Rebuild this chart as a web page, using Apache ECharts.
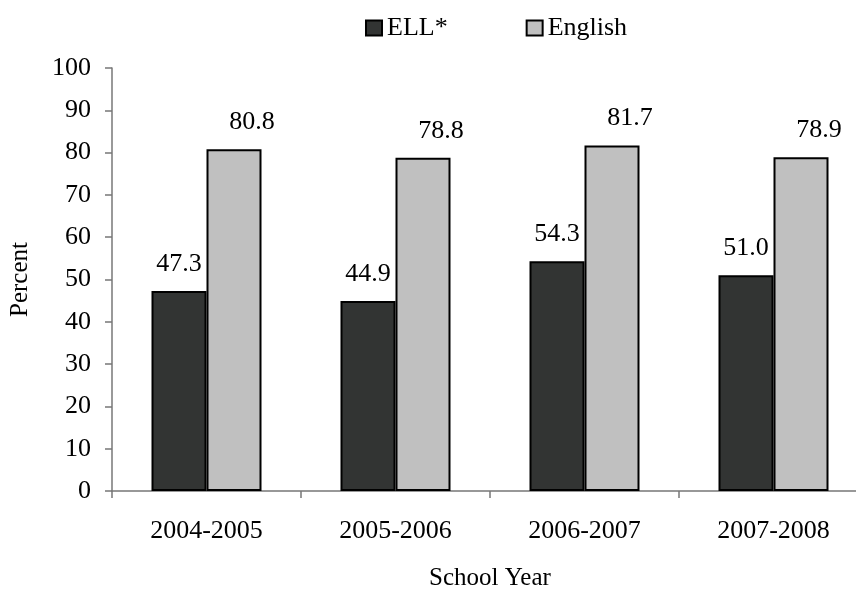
<!DOCTYPE html>
<html>
<head>
<meta charset="utf-8">
<script src="https://cdn.jsdelivr.net/npm/echarts@6/dist/echarts.min.js"></script>
<style>html,body{margin:0;padding:0;background:#fff}#c{width:856px;height:589px}</style>
</head>
<body>
<div id="c"></div>
<script>
const categories = ['2004-2005', '2005-2006', '2006-2007', '2007-2008'];
const ellValues = [47.3, 44.9, 54.3, 51.0];
const englishValues = [80.8, 78.8, 81.7, 78.9];
const seriesNames = ['ELL*', 'English'];

const FONT = 'Liberation Serif';
const chart = echarts.init(document.getElementById('c'));
function labelStyle(dx) {
  return {
    show: true, position: 'top', distance: 14, offset: [dx, 0],
    fontFamily: FONT, fontSize: 26, color: '#000',
    formatter: p => p.value.toFixed(1)
  };
}
chart.setOption({
  animation: false,
  backgroundColor: '#fff',
  textStyle: { fontFamily: FONT },
  legend: {
    data: seriesNames,
    top: 10, left: 360,
    itemWidth: 16, itemHeight: 15, itemGap: 78,
    textStyle: { fontFamily: FONT, fontSize: 26, color: '#000' },
    icon: 'rect'
  },
  grid: { left: 112, top: 68, width: 756, height: 423, outerBoundsMode: 'none', containLabel: false },
  xAxis: {
    type: 'category', data: categories,
    name: 'School Year', nameLocation: 'middle', nameGap: 75,
    nameTextStyle: { fontFamily: FONT, fontSize: 25, color: '#000' },
    axisLine: { lineStyle: { color: '#777', width: 1.5 } },
    axisTick: { show: true, length: 7, lineStyle: { color: '#777', width: 1.5 } },
    axisLabel: { fontFamily: FONT, fontSize: 26, color: '#000', margin: 27 }
  },
  yAxis: {
    type: 'value', min: 0, max: 100, interval: 10,
    name: 'Percent', nameLocation: 'middle', nameGap: 79,
    nameTextStyle: { fontFamily: FONT, fontSize: 25, color: '#000' },
    axisLine: { show: true, lineStyle: { color: '#777', width: 1.5 } },
    axisTick: { show: true, length: 7, lineStyle: { color: '#777', width: 1.5 } },
    axisLabel: { fontFamily: FONT, fontSize: 26, color: '#000', margin: 21 },
    splitLine: { show: false }
  },
  series: [
    {
      name: seriesNames[0], type: 'bar', data: ellValues,
      barWidth: 55, barGap: '0%',
      itemStyle: { color: '#323433', borderColor: '#000', borderWidth: 2 },
      label: labelStyle(0)
    },
    {
      name: seriesNames[1], type: 'bar', data: englishValues,
      barWidth: 55, barGap: '0%',
      itemStyle: { color: '#c0c0c0', borderColor: '#000', borderWidth: 2 },
      label: labelStyle(18)
    }
  ]
});
</script>
</body>
</html>
